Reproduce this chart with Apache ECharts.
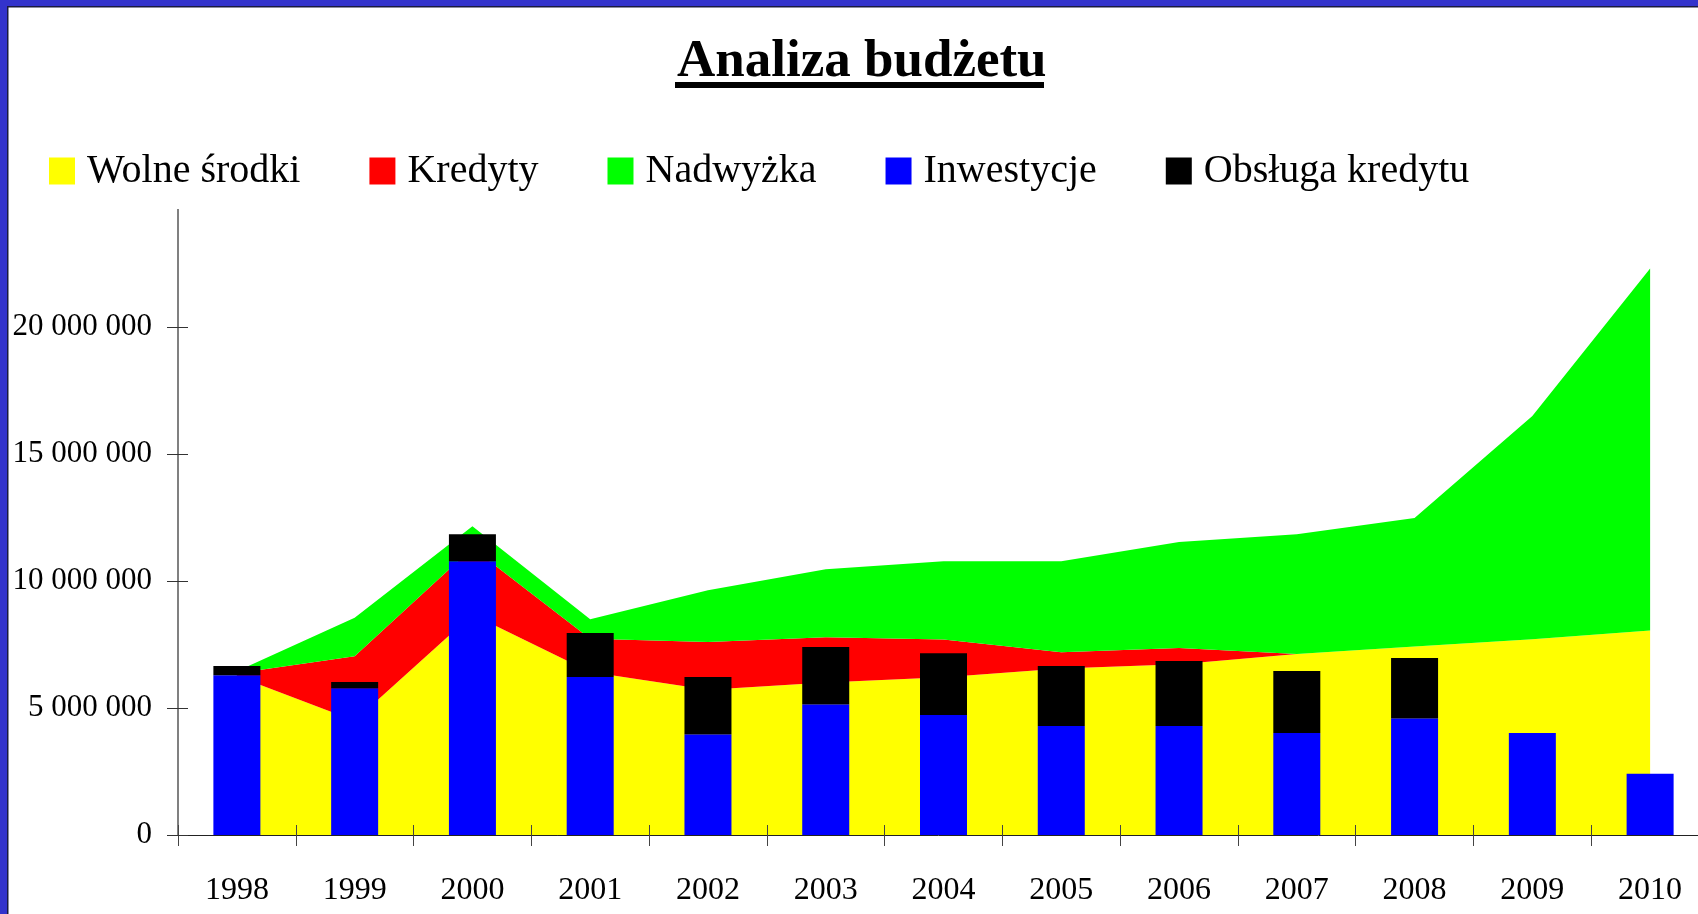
<!DOCTYPE html>
<html>
<head>
<meta charset="utf-8">
<script src="https://cdn.jsdelivr.net/npm/echarts@6.0.0/dist/echarts.min.js"></script>
<style>
  html, body { margin: 0; padding: 0; background: #ffffff; }
  #chart { width: 1698px; height: 914px; }
</style>
</head>
<body>
<div id="chart"></div>
<script>
// ---- data ----
const years = ['1998', '1999', '2000', '2001', '2002', '2003', '2004', '2005', '2006', '2007', '2008', '2009', '2010'];
const wolneSrodki = [6260000, 4500000, 8680000, 6420000, 5720000, 6000000, 6210000, 6560000, 6720000, 7130000, 7420000, 7710000, 8050000];
const kredyty = [110000, 2540000, 2620000, 1310000, 1880000, 1790000, 1490000, 630000, 640000, 0, 0, 0, 0];
const nadwyzka = [80000, 1510000, 860000, 760000, 2040000, 2670000, 3080000, 3590000, 4180000, 4710000, 5060000, 8790000, 14250000];
const inwestycje = [6290000, 5780000, 10780000, 6220000, 3970000, 5150000, 4720000, 4290000, 4290000, 4020000, 4600000, 4020000, 2410000];
const obslugaKredytu = [360000, 240000, 1060000, 1730000, 2250000, 2250000, 2440000, 2360000, 2560000, 2440000, 2370000, 0, 0];
const yTicks = { min: 0, max: 25000000, interval: 5000000 };

const serif = "'Liberation Serif', 'Times New Roman', serif";
const fmt = v => String(v).replace(/\B(?=(\d{3})+(?!\d))/g, ' ');

function areaSeries(name, data, color) {
  return {
    name: name, type: 'line', stack: 'area', data: data,
    showSymbol: false, symbol: 'none',
    lineStyle: { width: 0, color: color },
    itemStyle: { color: color },
    areaStyle: { color: color, opacity: 1 },
    xAxisIndex: 0, yAxisIndex: 0, z: 2
  };
}
function barSeries(name, data, color) {
  return {
    name: name, type: 'bar', stack: 'bar', data: data,
    barWidth: 47,
    itemStyle: { color: color },
    xAxisIndex: 0, yAxisIndex: 0, z: 2
  };
}

const chart = echarts.init(document.getElementById('chart'), null, { renderer: 'canvas' });
chart.setOption({
  animation: false,
  backgroundColor: '#ffffff',
  title: {
    text: 'Analiza budżetu',
    left: 672, top: 31,
    textStyle: { fontFamily: serif, fontWeight: 'bold', fontSize: 53, color: '#000' }
  },
  legend: {
    data: ['Wolne środki', 'Kredyty', 'Nadwyżka', 'Inwestycje', 'Obsługa kredytu'],
    left: 44, top: 146,
    icon: 'rect', itemWidth: 26, itemHeight: 27, itemGap: 69,
    textStyle: { fontFamily: serif, fontSize: 40, color: '#000', padding: [0, 0, 0, 7], lineHeight: 40 },
    z: 8
  },
  grid: { left: 178, top: 200, width: 1531, height: 635, containLabel: false, outerBoundsMode: 'none' },
  xAxis: [
    {
      type: 'category', data: years, position: 'bottom',
      axisLine: { show: true, lineStyle: { color: '#222', width: 1 } },
      axisTick: { show: true, length: 11, lineStyle: { color: '#444', width: 1 } },
      axisLabel: { fontFamily: serif, fontSize: 32, color: '#000', margin: 40 },
      splitLine: { show: false }
    },
    {
      type: 'category', data: years, position: 'bottom', z: 5,
      axisLine: { show: false },
      axisTick: { show: true, inside: true, length: 10, lineStyle: { color: '#444', width: 1 } },
      axisLabel: { show: false },
      splitLine: { show: false }
    }
  ],
  yAxis: [
    {
      type: 'value', position: 'left', min: yTicks.min, max: yTicks.max, interval: yTicks.interval,
      axisLine: { show: true, lineStyle: { color: '#808080', width: 2 } },
      axisTick: { show: true, length: 11, lineStyle: { color: '#333', width: 1 } },
      axisLabel: { fontFamily: serif, fontSize: 31, color: '#000', margin: 26, formatter: fmt },
      splitLine: { show: false }
    },
    {
      type: 'value', position: 'left', min: yTicks.min, max: yTicks.max, interval: yTicks.interval, z: 5,
      axisLine: { show: false },
      axisTick: { show: true, inside: true, length: 10, lineStyle: { color: '#333', width: 1 } },
      axisLabel: { show: false },
      splitLine: { show: false }
    }
  ],
  graphic: [
    { type: 'rect', z: 7, shape: { x: 8, y: 120, width: 1690, height: 89 }, style: { fill: '#ffffff' } },
    { type: 'rect', z: 10, shape: { x: 675, y: 82, width: 369, height: 6 }, style: { fill: '#000000' } },
    { type: 'rect', z: 10, shape: { x: 0, y: 0, width: 1698, height: 6 }, style: { fill: '#3333CC' } },
    { type: 'rect', z: 10, shape: { x: 0, y: 6, width: 1698, height: 1.5 }, style: { fill: '#1a1a40' } },
    { type: 'rect', z: 10, shape: { x: 0, y: 0, width: 7, height: 914 }, style: { fill: '#3333CC' } },
    { type: 'rect', z: 10, shape: { x: 7, y: 6, width: 1.5, height: 908 }, style: { fill: '#1a1a40' } }
  ],
  series: [
    areaSeries('Wolne środki', wolneSrodki, '#FFFF00'),
    areaSeries('Kredyty', kredyty, '#FF0000'),
    areaSeries('Nadwyżka', nadwyzka, '#00FF00'),
    barSeries('Inwestycje', inwestycje, '#0000FF'),
    barSeries('Obsługa kredytu', obslugaKredytu, '#000000')
  ]
});
</script>
</body>
</html>
